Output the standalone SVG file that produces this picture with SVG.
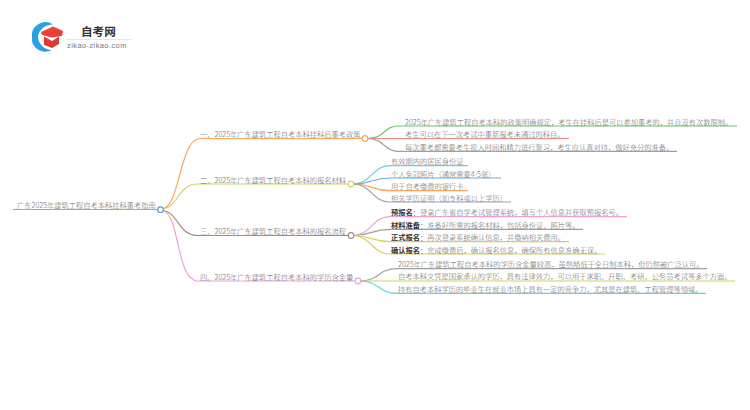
<svg xmlns="http://www.w3.org/2000/svg" width="750" height="410" viewBox="0 0 750 410">
<style>
text{font-family:"Noto Sans CJK SC","Noto Sans",sans-serif;font-size:7.25px;fill:#666;font-weight:300}
.b{font-weight:700;fill:#333}
.c{fill:none;stroke-width:1.2}
.n{fill:#fff;stroke-width:1.2}
</style>
<rect width="750" height="410" fill="#fff"/>
<g id="logo">
<path d="M53 24.500A13.500 13 0 0 0 32 37A13.500 13 0 0 0 52 50A15 13.500 0 0 1 38 37A15 13 0 0 1 53 24.500Z" fill="#2b9fe0"/>
<path d="M41 32L53 26.500L63 31L62 36L52 37.500L42 35Z" fill="#e8403a"/>
<path d="M44 36.500L52 41L59 36.500V44L52 48L44 45Z" fill="#e03a34"/>
<text x="81" y="35.500" style="font-size:11.600px;font-weight:700;fill:#333">自考网</text>
<rect x="66" y="39" width="65" height="0.7" fill="#ddd"/>
<text x="67" y="48" style="font-family:'Liberation Sans',sans-serif;font-size:7.400px;fill:#777;letter-spacing:.45px">zikao-zikao.com</text>
</g>
<g id="connectors">
<path class="c" stroke="#7bb0d8" stroke-width="1.500" d="M13 209.500H157.500"/>
<path class="c" stroke="#ffa35c" d="M163 208.500C180 206 180 138.500 200 138.500H362"/>
<path class="c" stroke="#d5d264" d="M163 209C178 207 178 184 198 184H348"/>
<path class="c" stroke="#a98a7e" d="M163 210.500C178 212 178 235.500 198 235.500H348"/>
<path class="c" stroke="#f0a0d8" d="M163 211C180 214 176 281 198 281H355"/>
<path class="c" stroke="#70c070" d="M368 138.500C385 138 384 126 398 126H737"/>
<path class="c" stroke="#f08a8a" d="M368 138.500H569"/>
<path class="c" stroke="#a0a0a0" d="M368 138.500C385 139 384 151.300 398 151.300H677"/>
<path class="c" stroke="#5fd4e4" d="M354 184C372 183 372 165.700 390 165.700H468"/>
<path class="c" stroke="#72a8d8" d="M354 184C372 184 372 178 390 178H501"/>
<path class="c" stroke="#ffa35c" d="M354 184C372 184 372 190.700 390 190.700H468"/>
<path class="c" stroke="#a0a0a0" d="M354 184C372 185 372 202 390 202H511"/>
<path class="c" stroke="#f0a0d8" d="M354 235.500C372 234 372 216.700 390 216.700H627"/>
<path class="c" stroke="#a0a0a0" d="M354 235.500C372 235 372 229.300 390 229.300H583"/>
<path class="c" stroke="#d5d264" d="M354 235.500C372 236 372 241.700 390 241.700H569"/>
<path class="c" stroke="#d5d264" d="M354 235.500C372 237 372 254 390 254H605"/>
<path class="c" stroke="#a0a0a0" d="M361 281C380 280 378 268.700 397 268.700H707"/>
<path class="c" stroke="#d5d264" d="M361 281H735"/>
<path class="c" stroke="#5fd4e4" d="M361 281C380 282 378 293.300 397 293.300H706"/>
</g>
<g id="root"><text x="17" y="208">广东2025年建筑工程自考本科挂科重考指南</text><circle class="n" cx="160.500" cy="209.700" r="2.800" stroke="#5b9bd5"/></g>
<g id="b1"><text x="200" y="137">一、2025年广东建筑工程自考本科挂科后重考政策</text><circle class="n" cx="365" cy="138.500" r="2.800" stroke="#ffa35c"/></g>
<g id="b2"><text x="200" y="182.500">二、2025年广东建筑工程自考本科的报名材料</text><circle class="n" cx="351" cy="184" r="2.800" stroke="#d5d264"/></g>
<g id="b3"><text x="200" y="234">三、2025年广东建筑工程自考本科的报名流程</text><circle class="n" cx="351" cy="235.500" r="2.800" stroke="#a98a7e"/></g>
<g id="b4"><text x="200" y="279.500">四、2025年广东建筑工程自考本科的学历含金量</text><circle class="n" cx="358" cy="281" r="2.800" stroke="#f0a0d8"/></g>
<g id="l1"><text x="405" y="124.500">2025年广东建筑工程自考本科的政策明确规定，考生在挂科后是可以参加重考的，并且没有次数限制。</text></g>
<g id="l2"><text x="405" y="137">考生可以在下一次考试中重新报考未通过的科目。</text></g>
<g id="l3"><text x="405" y="149.500">每次重考都需要考生投入时间和精力进行复习，考生应认真对待，做好充分的准备。</text></g>
<g id="l4"><text x="391" y="164">有效期内的居民身份证</text></g>
<g id="l5"><text x="391" y="176.500">个人免冠照片（通常需要4-5张）</text></g>
<g id="l6"><text x="391" y="189">用于自考缴费的银行卡</text></g>
<g id="l7"><text x="391" y="200.500">相关学历证明（如专科或以上学历）</text></g>
<g id="l8"><text x="391" y="215"><tspan class="b">预报名</tspan>：登录广东省自学考试管理系统，填写个人信息并获取预报名号。</text></g>
<g id="l9"><text x="391" y="227.500"><tspan class="b">材料准备</tspan>：准备好所需的报名材料，包括身份证、照片等。</text></g>
<g id="l10"><text x="391" y="240"><tspan class="b">正式报名</tspan>：再次登录系统确认信息，并缴纳相关费用。</text></g>
<g id="l11"><text x="391" y="252.500"><tspan class="b">确认报名</tspan>：完成缴费后，确认报名信息，确保所有信息准确无误。</text></g>
<g id="l12"><text x="398" y="267">2025年广东建筑工程自考本科的学历含金量较高，虽然略低于全日制本科，但仍然被广泛认可。</text></g>
<g id="l13"><text x="398" y="279">自考本科文凭是国家承认的学历，具有法律效力，可以用于求职、升职、考研、公务员考试等多个方面。</text></g>
<g id="l14"><text x="398" y="291.500">持有自考本科学历的毕业生在就业市场上具有一定的竞争力，尤其是在建筑、工程管理等领域。</text></g>
</svg>
